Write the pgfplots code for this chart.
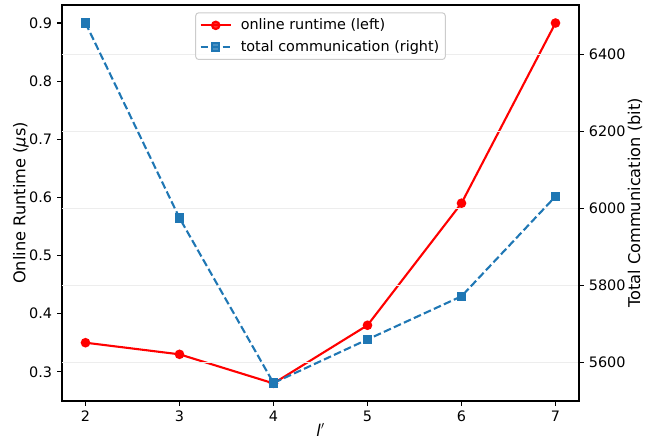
\documentclass[border=0pt]{standalone}
\usepackage{fontspec}
\setmainfont{DejaVu Sans}
\usepackage{pgfplots}
\pgfplotsset{compat=1.18}
\definecolor{tabblue}{HTML}{1F77B4}
\pgfplotstableread{
x rt
2 0.35
3 0.33
4 0.28
5 0.38
6 0.59
7 0.90
}\runtime
\pgfplotstableread{
x comm
2 6481
3 5975
4 5547
5 5660
6 5772
7 6031
}\comm
\newcommand{\tfont}{\fontsize{14.4bp}{17bp}\selectfont}
\newcommand{\lfont}{\fontsize{16.2bp}{19bp}\selectfont}
\begin{document}
\tfont
\begin{tikzpicture}[font=\tfont]
\pgfplotsset{
  every axis/.append style={
    width=517bp, height=396bp, scale only axis, at={(0,0)}, anchor=south west,
    xmin=1.75, xmax=7.25,
    tick style={black, line width=1.1bp}, major tick length=4.9bp,
    tick align=outside,
    axis line style={line width=1.1bp},
    /pgf/number format/assume math mode=true,
  }
}
\begin{axis}[
  ymin=0.2497, ymax=0.931,
  xtick={2,3,4,5,6,7}, ytick={0.3,0.4,0.5,0.6,0.7,0.8,0.9},
  xtick pos=lower, ytick pos=left,
  yticklabel style={font=\tfont, /pgf/number format/.cd, fixed, precision=1, fixed zerofill},
  xticklabel style={font=\tfont},
  ylabel={\lfont Online Runtime (\textit{μ}s)},
  ylabel style={font=\lfont, inner sep=0pt, at={(axis description cs:-0.0706,0.5)}, anchor=base},
  xlabel={\lfont\textit{l}$'$},
  xlabel style={font=\lfont, inner sep=0pt, at={(axis description cs:0.5,-0.0884)}, anchor=base},
]
\addplot[red, line width=2.1bp, mark=*, mark size=3.7bp, mark options={solid}] table[x=x,y=rt] {\runtime};
\end{axis}
\begin{axis}[
  ymin=5500.3, ymax=6527.7,
  ytick={5600,5800,6000,6200,6400},
  axis x line=none, axis y line*=right,
  ymajorgrids, grid style={black!7, line width=1bp},
  yticklabel style={font=\tfont, /pgf/number format/.cd, set thousands separator={}},
  ylabel={\lfont Total Communication (bit)},
  ylabel style={font=\lfont, inner sep=0pt, at={(axis description cs:1.118,0.5)}, anchor=base, rotate=0},
  legend style={at={(0.5,0.9815)}, anchor=north, draw=black!20, line width=1bp,
    rounded corners=3bp, fill=white, fill opacity=0.8, text opacity=1,
    font=\tfont, cells={anchor=west}, row sep=4.5bp,
    inner xsep=4bp, inner ysep=4bp,
    /tikz/every odd column/.append style={column sep=7bp}},
  legend image code/.code={\draw[mark repeat=2,mark phase=2,#1] plot coordinates {(0bp,0bp) (15bp,0bp) (30bp,0bp)};},
]
\addlegendimage{red, line width=2.1bp, mark=*, mark size=3.7bp, mark options={solid}}
\addlegendentry{online runtime (left)}
\addplot[tabblue, line width=2.1bp, dash pattern=on 7.7bp off 3.3bp, mark=square*, mark size=3.7bp, mark options={solid}] table[x=x,y=comm] {\comm};
\addlegendentry{total communication (right)}
\end{axis}
\pgfresetboundingbox
\useasboundingbox (-62bp,-40bp) rectangle (587bp,401bp);
\end{tikzpicture}
\end{document}
